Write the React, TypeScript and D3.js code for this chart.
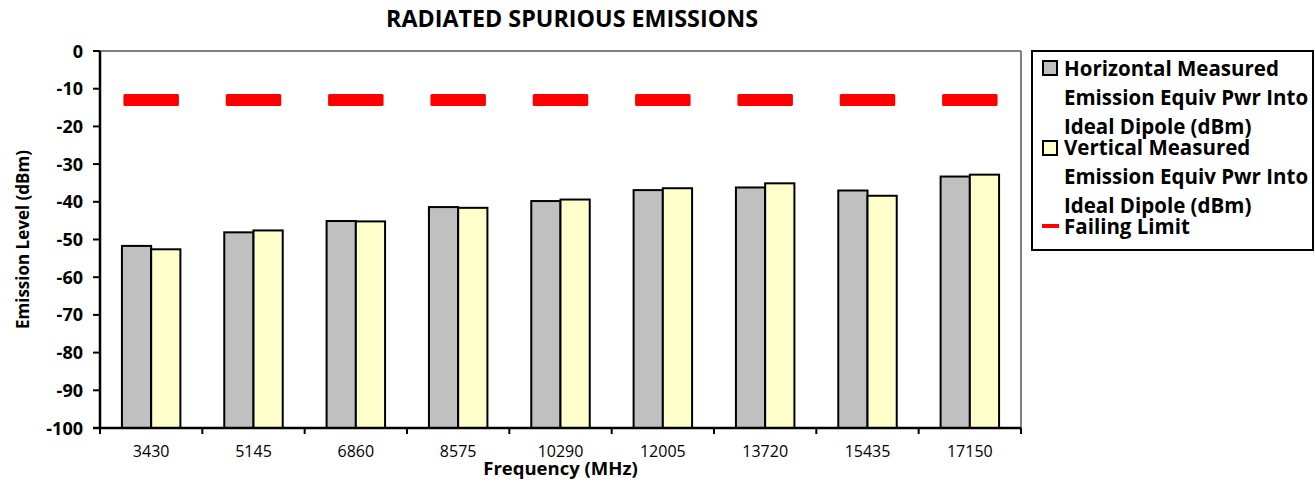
import React from "react";
import * as d3 from "d3";

const categories = ["3430", "5145", "6860", "8575", "10290", "12005", "13720", "15435", "17150"];
const horizontal = [-51.7, -48.1, -45.1, -41.4, -39.8, -36.9, -36.2, -37.0, -33.3];
const vertical = [-52.6, -47.6, -45.2, -41.6, -39.4, -36.4, -35.1, -38.4, -32.8];
const failingLimit = [-13, -13, -13, -13, -13, -13, -13, -13, -13];
const yTicks = [0, -10, -20, -30, -40, -50, -60, -70, -80, -90, -100];
const seriesNames = ["Horizontal", "Vertical"];

const FONT = "'Open Sans', sans-serif";

export default function App() {
  const W = 1315, H = 483;
  const left = 100, right = 1021, top = 51, bottom = 428;
  const x = d3.scaleBand<string>().domain(categories).range([left, right]).padding(0);
  const x1 = d3.scaleBand<string>().domain(seriesNames).range([0, x.bandwidth()]).paddingInner(0).paddingOuter(0.75);
  const y = d3.scaleLinear().domain([-100, 0]).range([bottom, top]);
  const fills = { Horizontal: "#c0c0c0", Vertical: "#ffffcc" } as Record<string, string>;
  const data = { Horizontal: horizontal, Vertical: vertical } as Record<string, number[]>;
  const dashLen = 55.5;
  const boundaries = categories.map((c) => x(c)!).concat([right]);
  const lf = 20.5;

  return (
    <svg width={W} height={H} style={{ position: "absolute", left: 0, top: 0, background: "#fff" }} fontFamily={FONT}>
      <text x={572} y={27} textAnchor="middle" fontWeight="bold" fontSize={23.3}>RADIATED SPURIOUS EMISSIONS</text>

      {/* plot frame top/right */}
      <line x1={left} x2={right} y1={top} y2={top} stroke="#808080" strokeWidth={2} />
      <line x1={right} x2={right} y1={top} y2={bottom} stroke="#808080" strokeWidth={2} />

      {/* bars */}
      {seriesNames.map((s) =>
        categories.map((c, i) => (
          <rect key={s + c} x={x(c)! + x1(s)!} y={y(data[s][i])} width={x1.bandwidth()} height={y(-100) - y(data[s][i])}
            fill={fills[s]} stroke="#000" strokeWidth={2} />
        ))
      )}

      {/* failing limit dashes */}
      {categories.map((c, i) => (
        <rect key={"fl" + c} x={x(c)! + x.bandwidth() / 2 - dashLen / 2} y={y(failingLimit[i]) - 6} width={dashLen} height={12} rx={1.5} fill="#ff0000" />
      ))}

      {/* y axis */}
      <line x1={left} x2={left} y1={top} y2={bottom + 1} stroke="#000" strokeWidth={2.5} />
      {yTicks.map((t) => (
        <g key={t}>
          <line x1={left - 7} x2={left} y1={y(t)} y2={y(t)} stroke="#000" strokeWidth={2} />
          <text x={83} y={y(t) + 6.5} textAnchor="end" fontWeight="bold" fontSize={18}>{t}</text>
        </g>
      ))}

      {/* x axis */}
      <line x1={left - 7} x2={right} y1={bottom} y2={bottom} stroke="#000" strokeWidth={2.5} />
      {boundaries.map((bx, i) => (
        <line key={"xt" + i} x1={bx} x2={bx} y1={bottom} y2={bottom + 6} stroke="#000" strokeWidth={2} />
      ))}
      {categories.map((c) => (
        <text key={"xl" + c} x={x(c)! + x.bandwidth() / 2} y={457} textAnchor="middle" fontSize={16}>{c}</text>
      ))}
      <text x={(left + right) / 2} y={475} textAnchor="middle" fontWeight="bold" fontSize={18.5}>Frequency (MHz)</text>
      <text transform={`translate(29, ${(top + bottom) / 2}) rotate(-90)`} textAnchor="middle" fontWeight="bold" fontSize={17}>Emission Level (dBm)</text>

      {/* legend */}
      <rect x={1032} y={51} width={281} height={199} fill="#fff" stroke="#000" strokeWidth={2} />
      <rect x={1043} y={61} width={14} height={14} fill={fills.Horizontal} stroke="#000" strokeWidth={2} />
      <text fontWeight="bold" fontSize={lf}>
        <tspan x={1064} y={76}>Horizontal Measured</tspan>
        <tspan x={1064} y={105}>Emission Equiv Pwr Into</tspan>
        <tspan x={1064} y={134}>Ideal Dipole (dBm)</tspan>
      </text>
      <rect x={1043} y={141} width={14} height={14} fill={fills.Vertical} stroke="#000" strokeWidth={2} />
      <text fontWeight="bold" fontSize={lf}>
        <tspan x={1064} y={155}>Vertical Measured</tspan>
        <tspan x={1064} y={184}>Emission Equiv Pwr Into</tspan>
        <tspan x={1064} y={213}>Ideal Dipole (dBm)</tspan>
      </text>
      <line x1={1042} x2={1059} y1={226} y2={226} stroke="#ff0000" strokeWidth={4} />
      <text x={1064} y={234} fontWeight="bold" fontSize={lf}>Failing Limit</text>
    </svg>
  );
}
